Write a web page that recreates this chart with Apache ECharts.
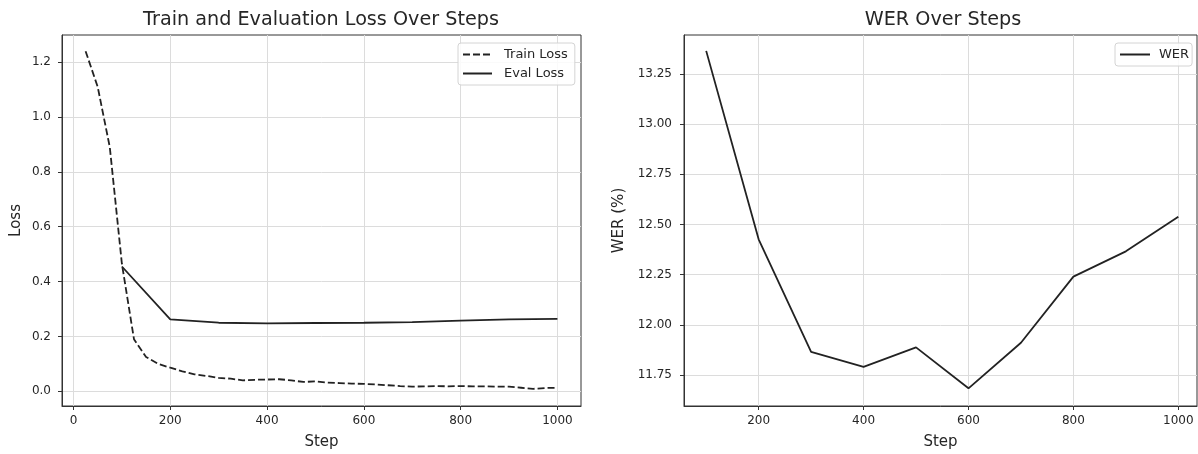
<!DOCTYPE html>
<html>
<head>
<meta charset="utf-8">
<script src="https://cdn.jsdelivr.net/npm/echarts@6/dist/echarts.min.js"></script>
<style>
html,body{margin:0;padding:0;background:#fff;}
#c{width:1198px;height:454px;}
</style>
</head>
<body>
<div id="c"></div>
<script>
// ---- data ----
const trainSteps = [25,50,75,100,125,150,175,200,225,250,275,300,325,350,375,400,425,450,475,500,
                    525,550,575,600,625,650,675,700,725,750,775,800,825,850,875,900,925,950,975,1000];
const trainLoss  = [1.24,1.11,0.89,0.465,0.19,0.125,0.10,0.086,0.073,0.062,0.056,0.049,0.046,0.040,0.042,0.043,0.044,0.040,0.034,0.036,
                    0.032,0.030,0.028,0.027,0.025,0.022,0.019,0.017,0.018,0.019,0.018,0.019,0.018,0.018,0.017,0.017,0.013,0.009,0.012,0.013];
const evalSteps = [100,200,300,400,500,600,700,800,900,1000];
const evalLoss  = [0.455,0.262,0.250,0.248,0.249,0.250,0.252,0.258,0.262,0.264];
const werSteps = [100,200,300,400,500,600,700,800,900,1000];
const werVals  = [13.364,12.426,11.866,11.791,11.888,11.684,11.911,12.24,12.366,12.538];

const lossXTicks = [0,200,400,600,800,1000];
const lossYTicks = [0.0,0.2,0.4,0.6,0.8,1.0,1.2];
const werXTicks  = [200,400,600,800,1000];
const werYTicks  = [11.75,12.00,12.25,12.50,12.75,13.00,13.25];

const FONT = 'DejaVu Sans';
const TXT = '#262626';
const LINE = '#222222';
const GRIDC = '#dcdcdc';

function pairs(xs, ys){ return xs.map((x,i)=>[x, ys[i]]); }

function xAxis(gridIndex, min, max, ticks){
  return {
    type:'value', gridIndex, min, max,
    name:'Step', nameLocation:'middle', nameGap:29,
    nameTextStyle:{fontFamily:FONT,fontSize:15,color:TXT},
    axisLine:{show:true,onZero:false,lineStyle:{color:'#333',width:1}},
    axisTick:{show:true,length:4,lineStyle:{color:'#333'},customValues:ticks},
    axisLabel:{fontFamily:FONT,fontSize:12,color:TXT,margin:9,customValues:ticks,
               formatter:v=>String(Math.round(v))},
    splitLine:{show:true,lineStyle:{color:GRIDC,width:1}}
  };
}
function yAxis(gridIndex, min, max, ticks, name, gap, margin, dec){
  return {
    type:'value', gridIndex, min, max,
    name, nameLocation:'middle', nameGap:gap, nameRotate:90,
    nameTextStyle:{fontFamily:FONT,fontSize:15,color:TXT},
    axisLine:{show:true,onZero:false,lineStyle:{color:'#333',width:1}},
    axisTick:{show:true,length:4,lineStyle:{color:'#333'},customValues:ticks},
    axisLabel:{fontFamily:FONT,fontSize:12,color:TXT,margin,customValues:ticks,
               formatter:v=>Number(v).toFixed(dec)},
    splitLine:{show:true,lineStyle:{color:GRIDC,width:1}}
  };
}

const legendBase = {
  orient:'vertical', itemWidth:29, itemHeight:14, itemGap:6,
  textStyle:{fontFamily:FONT,fontSize:13,color:TXT,padding:[0,0,0,7]},
  itemStyle:{opacity:0},
  borderColor:'#d4d4d4', borderWidth:1, borderRadius:3,
  padding:[5,7,5,4], backgroundColor:'rgba(255,255,255,0.85)'
};

const chart = echarts.init(document.getElementById('c'), null, {renderer:'canvas'});
chart.setOption({
  animation:false,
  backgroundColor:'#fff',
  title:[
    {text:'Train and Evaluation Loss Over Steps', left:321, top:11, textAlign:'center', padding:0,
     textStyle:{fontFamily:FONT,fontSize:19.2,fontWeight:'normal',color:TXT}},
    {text:'WER Over Steps', left:943, top:11, textAlign:'center', padding:0,
     textStyle:{fontFamily:FONT,fontSize:19.2,fontWeight:'normal',color:TXT}}
  ],
  legend:[
    Object.assign({}, legendBase, {left:458, top:43, data:['Train Loss','Eval Loss']}),
    Object.assign({}, legendBase, {left:1115, top:43, itemWidth:30, padding:[5,3,5,4],
      textStyle:Object.assign({}, legendBase.textStyle, {padding:[0,0,0,4]}), data:['WER']})
  ],
  grid:[
    {left:62, top:35, width:519, height:371, show:true, borderColor:'#333', borderWidth:1,
     containLabel:false, outerBoundsMode:'none'},
    {left:684, top:35, width:513, height:371, show:true, borderColor:'#333', borderWidth:1,
     containLabel:false, outerBoundsMode:'none'}
  ],
  xAxis:[ xAxis(0,-23.75,1048.75,lossXTicks), xAxis(1,57.7,1035.6,werXTicks) ],
  yAxis:[ yAxis(0,-0.0536,1.299,lossYTicks,'Loss',38,11,1), yAxis(1,11.596,13.443,werYTicks,'WER (%)',57,12,2) ],
  series:[
    {name:'Train Loss', type:'line', xAxisIndex:0, yAxisIndex:0, data:pairs(trainSteps,trainLoss),
     symbol:'none', lineStyle:{color:LINE,width:1.8,type:[7,3]}, itemStyle:{color:LINE}},
    {name:'Eval Loss', type:'line', xAxisIndex:0, yAxisIndex:0, data:pairs(evalSteps,evalLoss),
     symbol:'none', lineStyle:{color:LINE,width:1.8}, itemStyle:{color:LINE}},
    {name:'WER', type:'line', xAxisIndex:1, yAxisIndex:1, data:pairs(werSteps,werVals),
     symbol:'none', lineStyle:{color:LINE,width:1.8}, itemStyle:{color:LINE}}
  ]
});
</script>
</body>
</html>
